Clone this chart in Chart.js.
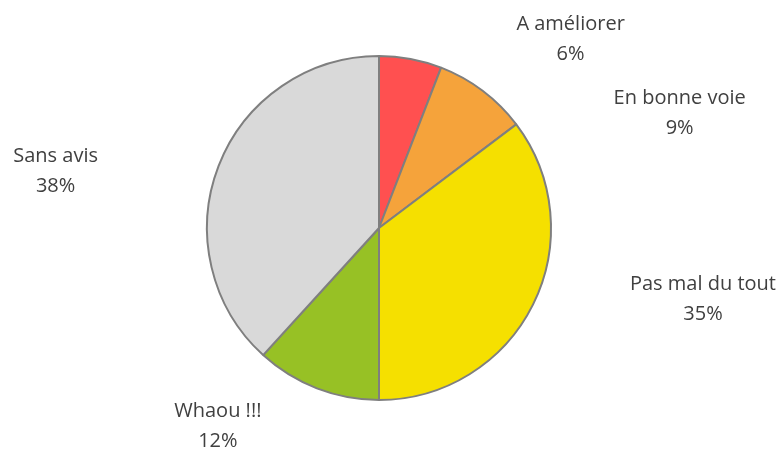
<!DOCTYPE html>
<html>
<head>
<meta charset="utf-8">
<script src="https://cdn.jsdelivr.net/npm/chart.js@4"></script>
<style>
  html, body { margin: 0; padding: 0; background: #fff; }
  #chart { display: block; }
</style>
</head>
<body>
<canvas id="chart" width="782" height="452"></canvas>
<script>
// --- données ---
const categories = ['A améliorer', 'En bonne voie', 'Pas mal du tout', 'Whaou !!!', 'Sans avis'];
const votes = [2, 3, 12, 4, 13];
const couleurs = ['#FF5050', '#F5A33B', '#F5E000', '#97C125', '#D9D9D9'];

// décalage des étiquettes par rapport au milieu de l'arc (px)
const decalages = [[160, -20], [197, 23], [170, -5], [-99, 38], [-163, 5]];

const total = votes.reduce((a, b) => a + b, 0);

const etiquettesPlugin = {
  id: 'etiquettes',
  afterDraw(chart) {
    const ctx = chart.ctx;
    const meta = chart.getDatasetMeta(0);
    ctx.save();
    ctx.font = '20px "Open Sans"';
    ctx.fillStyle = '#404040';
    ctx.textAlign = 'center';
    ctx.textBaseline = 'middle';
    meta.data.forEach((arc, i) => {
      const p = arc.getProps(['x', 'y', 'startAngle', 'endAngle', 'outerRadius'], true);
      const mid = (p.startAngle + p.endAngle) / 2;
      const x = p.x + Math.cos(mid) * p.outerRadius + decalages[i][0];
      const y = p.y + Math.sin(mid) * p.outerRadius + decalages[i][1];
      const pct = Math.round((votes[i] / total) * 100) + '%';
      ctx.fillText(categories[i], x, y - 15);
      ctx.fillText(pct, x, y + 15);
    });
    ctx.restore();
  },
};

new Chart(document.getElementById('chart'), {
  type: 'pie',
  data: {
    labels: categories,
    datasets: [{
      data: votes,
      backgroundColor: couleurs,
      borderColor: '#7F7F7F',
      borderWidth: 2,
    }],
  },
  options: {
    responsive: false,
    animation: false,
    layout: { padding: { left: 206, top: 55, right: 230, bottom: 51 } },
    plugins: {
      legend: { display: false },
      tooltip: { enabled: false },
    },
  },
  plugins: [etiquettesPlugin],
});
</script>
</body>
</html>
